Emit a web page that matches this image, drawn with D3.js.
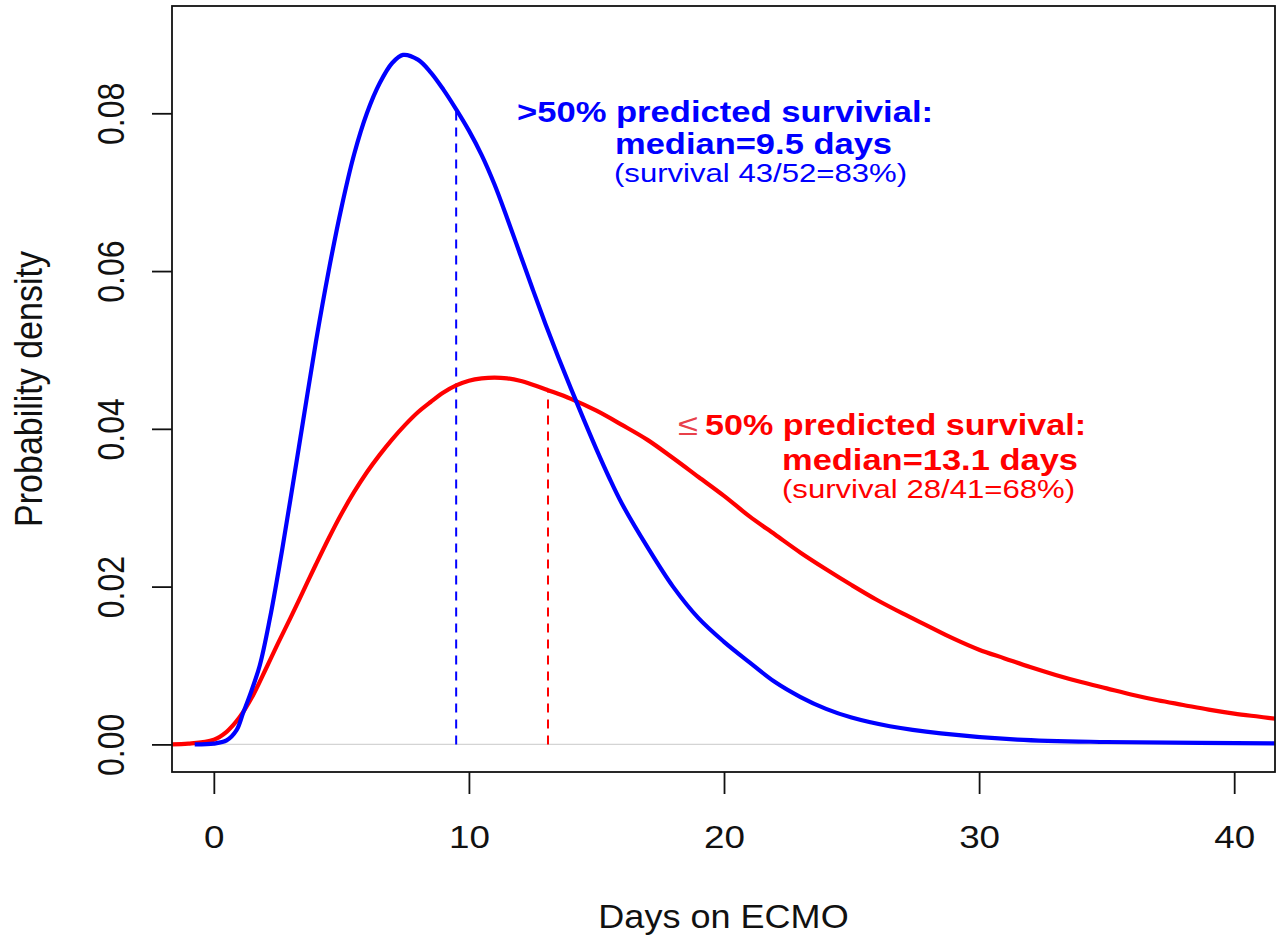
<!DOCTYPE html>
<html>
<head>
<meta charset="utf-8">
<script src="https://cdn.jsdelivr.net/npm/d3@7"></script>
<style>
  html, body { margin: 0; padding: 0; background: #fff; }
  svg { display: block; }
  text { font-family: "Liberation Sans", Arial, sans-serif; }
</style>
</head>
<body>
<div id="container"></div>
<script>
// density curves: [days, density]
const blueCurve = [
  [-0.75, 0], [0, 0.0001], [0.5, 0.0005], [0.89, 0.0018], [1.15, 0.0040], [1.41, 0.0062],
  [1.8, 0.0100], [2.2, 0.0160], [2.6, 0.0232], [3.0, 0.0310], [3.5, 0.0410], [4.0, 0.0510],
  [4.5, 0.0600], [5.0, 0.0680], [5.5, 0.0748], [6.0, 0.0800], [6.5, 0.0838], [7.0, 0.0864],
  [7.42, 0.0874], [8.0, 0.0868], [8.5, 0.0852], [9.0, 0.0830], [9.5, 0.0805], [10.0, 0.0778],
  [10.5, 0.0747], [11.0, 0.0710], [11.5, 0.0667], [12.0, 0.0622], [12.5, 0.0577], [13.0, 0.0533],
  [13.5, 0.0491], [14.0, 0.0451], [14.5, 0.0412], [15.0, 0.0374], [15.5, 0.0338], [16.0, 0.0305],
  [17.0, 0.0250], [18.0, 0.0200], [19.0, 0.0160], [20.0, 0.0130], [21.0, 0.0104], [22.0, 0.0079],
  [23.0, 0.0060], [24.0, 0.0045], [25.0, 0.0034], [26.5, 0.0023], [28.5, 0.0014], [31.5, 0.0006],
  [35.0, 0.0003], [43.0, 0.0001]
]
const redCurve = [
  [-2, 0], [-1, 0.0001], [0, 0.0006], [0.5, 0.0016], [1.0, 0.0034], [1.5, 0.0060], [2.0, 0.0093],
  [2.5, 0.0127], [3.0, 0.0160], [3.5, 0.0194], [4.0, 0.0228], [4.5, 0.0261], [5.0, 0.0292],
  [5.5, 0.0320], [6.0, 0.0345], [6.5, 0.0367], [7.0, 0.0387], [7.5, 0.0405], [8.0, 0.0421],
  [8.5, 0.0434], [9.0, 0.0446], [9.5, 0.0455], [10.0, 0.0461], [10.5, 0.0464], [11.0, 0.0465],
  [11.5, 0.0464], [12.0, 0.0461], [12.5, 0.0456], [13.1, 0.0449], [14.0, 0.0438], [15.0, 0.0423],
  [16.0, 0.0405], [17.0, 0.0386], [18.0, 0.0363], [19.0, 0.0339], [20.0, 0.0315], [21.0, 0.0289],
  [22.0, 0.0266], [23.0, 0.0243], [24.0, 0.0222], [25.0, 0.0202], [26.0, 0.0183], [27.0, 0.0166],
  [28.0, 0.0150], [29.0, 0.0134], [30.0, 0.0120], [31.0, 0.0109], [32.0, 0.0098], [33.0, 0.0088],
  [34.0, 0.0079], [35.0, 0.0071], [36.0, 0.0063], [37.0, 0.0056], [38.0, 0.0050], [39.0, 0.0044],
  [40.0, 0.0039], [41.0, 0.0035], [42.0, 0.0031], [43.0, 0.0028]
]
// medians and the curve height at each median
const medians = [9.5, 13.1]
const medianHeights = [0.0805, 0.0449]
const groupColors = ["#0000ff", "#ff0000"]

const xTicks = [0, 10, 20, 30, 40]
const yTicks = [0, 0.02, 0.04, 0.06, 0.08]

const blueLabel = [">50% predicted survivial:", "median=9.5 days", "(survival 43/52=83%)"]
const redLabel = ["\u2264", "50% predicted survival:", "median=13.1 days", "(survival 28/41=68%)"]

const xTitle = "Days on ECMO"
const yTitle = "Probability density"

// chart dimensions
const width = 1280
const height = 943
const margin = { top: 6, right: 5, bottom: 171, left: 172 }
const plotW = width - margin.left - margin.right
const plotH = height - margin.top - margin.bottom
const stretch = 1.15

const x = d3.scaleLinear()
  .domain([-1.64, 41.6])
  .range([margin.left, margin.left + plotW])

const y = d3.scaleLinear()
  .domain([-0.0035, 0.0936])
  .range([margin.top + plotH, margin.top])

const svg = d3.select("#container")
  .append("svg")
  .attr("width", width)
  .attr("height", height)

svg.append("defs").append("clipPath")
  .attr("id", "plot-clip")
  .append("rect")
  .attr("x", margin.left)
  .attr("y", margin.top)
  .attr("width", plotW)
  .attr("height", plotH)

// zero line
svg.append("line")
  .attr("x1", margin.left)
  .attr("x2", margin.left + plotW)
  .attr("y1", y(0))
  .attr("y2", y(0))
  .attr("stroke", "#d4d4d4")
  .attr("stroke-width", 1.3)

const plot = svg.append("g").attr("clip-path", "url(#plot-clip)")

// dashed median lines
plot.selectAll(".median")
  .data(medians)
  .join("line")
  .attr("class", "median")
  .attr("x1", d => x(d))
  .attr("x2", d => x(d))
  .attr("y1", y(0))
  .attr("y2", (d, i) => y(medianHeights[i]))
  .attr("stroke", (d, i) => groupColors[i])
  .attr("stroke-width", 2)
  .attr("stroke-dasharray", "9,7")

const line = d3.line()
  .x(d => x(d[0]))
  .y(d => y(d[1]))
  .curve(d3.curveCatmullRom.alpha(0.5))

plot.append("path")
  .datum(redCurve)
  .attr("d", line)
  .attr("fill", "none")
  .attr("stroke", groupColors[1])
  .attr("stroke-width", 4.2)

plot.append("path")
  .datum(blueCurve)
  .attr("d", line)
  .attr("fill", "none")
  .attr("stroke", groupColors[0])
  .attr("stroke-width", 4.2)

// box
svg.append("rect")
  .attr("x", margin.left)
  .attr("y", margin.top)
  .attr("width", plotW)
  .attr("height", plotH)
  .attr("fill", "none")
  .attr("stroke", "#111")
  .attr("stroke-width", 1.8)

// axes
const xAxis = svg.append("g")
  .attr("transform", `translate(0,${margin.top + plotH})`)
  .call(d3.axisBottom(x).tickValues(xTicks).tickSize(22).tickSizeOuter(0).tickFormat(d3.format("d")))
xAxis.select(".domain").remove()
xAxis.selectAll(".tick line").attr("stroke", "#111").attr("stroke-width", 1.8)
xAxis.selectAll(".tick text")
  .attr("y", null).attr("dy", null)
  .attr("transform", `translate(0,76) scale(${stretch},1)`)
  .attr("font-size", 32)
  .attr("font-family", "Liberation Sans, Arial, sans-serif")
  .attr("fill", "#111")

const yAxis = svg.append("g")
  .attr("transform", `translate(${margin.left},0)`)
  .call(d3.axisLeft(y).tickValues(yTicks).tickSize(20).tickSizeOuter(0).tickFormat(d3.format(".2f")))
yAxis.select(".domain").remove()
yAxis.selectAll(".tick line").attr("stroke", "#111").attr("stroke-width", 1.8)
yAxis.selectAll(".tick text")
  .attr("x", null).attr("dy", "0.35em")
  .attr("transform", `translate(-61,0) scale(${stretch},1) rotate(-90)`)
  .attr("text-anchor", "middle")
  .attr("font-size", 32)
  .attr("font-family", "Liberation Sans, Arial, sans-serif")
  .attr("fill", "#111")

// axis titles
svg.append("text")
  .attr("transform", `translate(${margin.left + plotW / 2},928) scale(${stretch * 0.95},1)`)
  .attr("text-anchor", "middle")
  .attr("font-size", 33)
  .attr("fill", "#111")
  .text(xTitle)

svg.append("text")
  .attr("transform", `translate(42,${margin.top + plotH / 2}) scale(${stretch},1) rotate(-90)`)
  .attr("text-anchor", "middle")
  .attr("font-size", 34)
  .attr("fill", "#111")
  .text(yTitle)

// annotations
const blueSpecs = [
  { x: 517, y: 122, w: 416, bold: true },
  { x: 615, y: 154, w: 277, bold: true },
  { x: 614, y: 182, w: 293, bold: false }
]
svg.selectAll(".blue-label")
  .data(blueLabel)
  .join("text")
  .attr("class", "blue-label")
  .attr("x", (d, i) => blueSpecs[i].x)
  .attr("y", (d, i) => blueSpecs[i].y)
  .attr("textLength", (d, i) => blueSpecs[i].w)
  .attr("lengthAdjust", "spacingAndGlyphs")
  .attr("font-size", (d, i) => blueSpecs[i].bold ? 30 : 26)
  .attr("font-weight", (d, i) => blueSpecs[i].bold ? "bold" : "normal")
  .attr("fill", groupColors[0])
  .text(d => d)

const redSpecs = [
  { x: 678, y: 435, w: 20, bold: false },
  { x: 705, y: 435, w: 381, bold: true },
  { x: 782, y: 470, w: 296, bold: true },
  { x: 782, y: 498, w: 293, bold: false }
]
svg.selectAll(".red-label")
  .data(redLabel)
  .join("text")
  .attr("class", "red-label")
  .attr("x", (d, i) => redSpecs[i].x)
  .attr("y", (d, i) => redSpecs[i].y)
  .attr("textLength", (d, i) => redSpecs[i].w)
  .attr("lengthAdjust", "spacingAndGlyphs")
  .attr("font-size", (d, i) => i === 0 ? 30 : (redSpecs[i].bold ? 30 : 26))
  .attr("font-weight", (d, i) => redSpecs[i].bold ? "bold" : "normal")
  .attr("fill", (d, i) => i === 0 ? "#e8404a" : groupColors[1])
  .text(d => d)
</script>
</body>
</html>
